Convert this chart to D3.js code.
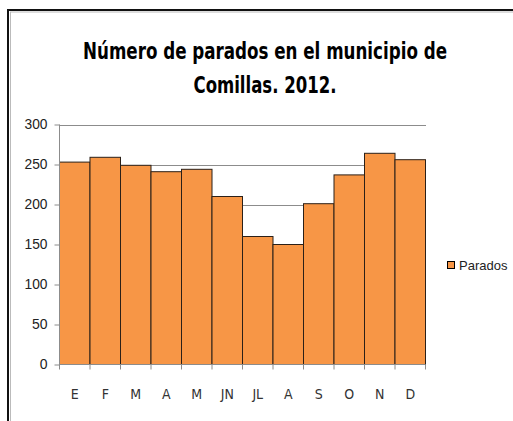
<!DOCTYPE html>
<html><head><meta charset="utf-8">
<script src="https://cdn.jsdelivr.net/npm/d3@7"></script>
<style>body{margin:0;background:#fff}svg{display:block}</style>
</head><body>
<script>
const categories = ["E","F","M","A","M","JN","JL","A","S","O","N","D"];
const values = [253,259,249,241,244,210,160,150,201,237,264,256];
const yTicks = [0,50,100,150,200,250,300];
const seriesName = "Parados";
const titleLines = ["Número de parados en el municipio de","Comillas. 2012."];

const W=513,H=421;
const svg=d3.select("body").append("svg").attr("width",W).attr("height",H);
svg.append("rect").attr("width",W).attr("height",H).attr("fill","#fff");
// frame (cropped: only top and left edges visible)
svg.append("line").attr("x1",8).attr("x2",W).attr("y1",10).attr("y2",10).attr("stroke","#111").attr("stroke-width",2);
svg.append("line").attr("x1",8).attr("x2",8).attr("y1",9).attr("y2",H).attr("stroke","#111").attr("stroke-width",2);
svg.append("line").attr("x1",10).attr("x2",W).attr("y1",12).attr("y2",12).attr("stroke","#bbb").attr("stroke-width",1);
svg.append("line").attr("x1",10.5).attr("x2",10.5).attr("y1",12).attr("y2",H).attr("stroke","#bbb").attr("stroke-width",1);

const x=d3.scaleBand().domain(d3.range(categories.length)).range([59.5,425.5]).padding(0);
const y=d3.scaleLinear().domain([0,300]).range([364.5,124.5]);

// title
svg.append("g").selectAll("text").data(titleLines).join("text")
  .attr("x",265).attr("y",(d,i)=>59+i*34).attr("text-anchor","middle")
  .attr("font-family","'DejaVu Sans Condensed', sans-serif").attr("font-weight","bold")
  .attr("font-size",23).attr("fill","#000").attr("textLength",(d,i)=>i==0?364:143).attr("lengthAdjust","spacingAndGlyphs")
  .text(d=>d);

// gridlines
svg.append("g").selectAll("line").data(yTicks.filter(t=>t>0)).join("line")
  .attr("x1",59.5).attr("x2",426).attr("y1",d=>Math.round(y(d))+0.5).attr("y2",d=>Math.round(y(d))+0.5)
  .attr("stroke","#8c8c8c").attr("stroke-width",1);

// bars
svg.append("g").selectAll("rect").data(values).join("rect")
  .attr("x",(d,i)=>x(i)).attr("width",x.bandwidth())
  .attr("y",d=>y(d)).attr("height",d=>y(0)-y(d))
  .attr("fill","#F79646").attr("stroke","#2b2018").attr("stroke-width",1);

// y axis
const ya=svg.append("g").attr("transform","translate(59.5,0)")
  .call(d3.axisLeft(y).tickValues(yTicks).tickSize(5).tickPadding(7));
ya.select(".domain").attr("stroke","#8c8c8c").attr("d","M0,124.5V367.5");
ya.selectAll(".tick line").attr("stroke","#8c8c8c");
ya.selectAll("text").attr("font-family","'Liberation Sans', sans-serif").attr("font-size",14).attr("fill","#222")
  .attr("textLength",23).attr("lengthAdjust","spacingAndGlyphs");
ya.selectAll(".tick text").filter(d=>d<100).attr("textLength",null);

// x axis
const xa=svg.append("g").attr("transform","translate(0,364.5)")
  .call(d3.axisBottom(x).tickFormat(i=>categories[i]).tickSize(0).tickPadding(24));
xa.select(".domain").attr("stroke","#8c8c8c").attr("d","M59.5,0H425.5");
xa.selectAll("text").attr("font-family","'DejaVu Sans Condensed', sans-serif").attr("font-size",14).attr("fill","#333")
  .attr("transform","translate(0,1)");
svg.append("g").selectAll("line").data(d3.range(categories.length+1)).join("line")
  .attr("x1",i=>i<categories.length?x(i):x(i-1)+x.bandwidth()).attr("x2",i=>i<categories.length?x(i):x(i-1)+x.bandwidth())
  .attr("y1",364.5).attr("y2",369.5).attr("stroke","#8c8c8c");

// legend
const lg=svg.append("g");
lg.append("rect").attr("x",447.5).attr("y",261.5).attr("width",7).attr("height",7)
  .attr("fill","#F79646").attr("stroke","#000").attr("stroke-width",1);
lg.append("text").attr("x",459).attr("y",270).attr("font-family","'Liberation Sans', sans-serif")
  .attr("font-size",13).attr("fill","#222").text(seriesName);
</script>
</body></html>
